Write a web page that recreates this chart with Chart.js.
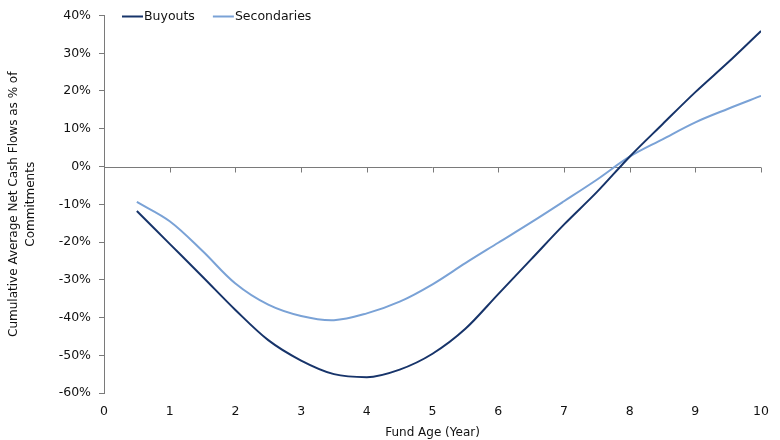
<!DOCTYPE html>
<html>
<head>
<meta charset="utf-8">
<script src="https://cdn.jsdelivr.net/npm/chart.js@4.4.0/dist/chart.umd.min.js"></script>
<style>
  html, body { margin: 0; padding: 0; background: #fff; }
  #wrap { width: 780px; height: 440px; }
</style>
</head>
<body>
<div id="wrap"><canvas id="chFlows"></canvas></div>
<script>
// fund age in years, read every half year off the reference
const years = [0.5, 1, 1.5, 2, 2.5, 3, 3.5, 4, 4.5, 5, 5.5, 6, 6.5, 7, 7.5, 8, 8.5, 9, 9.5, 10];
const buyouts = [-11.8, -20.5, -29.2, -38.0, -46.0, -51.4, -55.0, -55.8, -53.8, -49.6, -43.0, -33.8, -24.6, -15.4, -6.8, 2.6, 11.2, 19.7, 27.6, 35.9];
const secondaries = [-9.4, -14.5, -22.4, -31.0, -36.6, -39.6, -40.7, -38.9, -35.8, -31.2, -25.6, -20.2, -14.8, -9.2, -3.5, 2.6, 7.2, 11.7, 15.3, 18.7];
const seriesNames = ['Buyouts', 'Secondaries'];
const xTicks = [0, 1, 2, 3, 4, 5, 6, 7, 8, 9, 10];
const yTicks = [-60, -50, -40, -30, -20, -10, 0, 10, 20, 30, 40];

const FONT = '"DejaVu Sans", Verdana, sans-serif';
const AXIS = '#7a7a7a';
const TXT = '#111';

// zero line with its tick marks (the x axis sits on 0%)
const zeroAxis = {
  id: 'zeroAxis',
  beforeDatasetsDraw(chart) {
    const ctx = chart.ctx, a = chart.chartArea;
    const sx = chart.scales.x, sy = chart.scales.y;
    const y0 = Math.round(sy.getPixelForValue(0)) + 0.5;
    ctx.save();
    ctx.strokeStyle = AXIS;
    ctx.lineWidth = 1;
    ctx.beginPath();
    ctx.moveTo(a.left, y0);
    ctx.lineTo(a.right, y0);
    xTicks.forEach(t => {
      if (t === 0) return;
      const px = Math.round(sx.getPixelForValue(t)) + 0.5;
      ctx.moveTo(px, y0);
      ctx.lineTo(px, y0 + 5);
    });
    ctx.stroke();
    ctx.restore();
  }
};

// legend drawn inside the plot, top left
const innerLegend = {
  id: 'innerLegend',
  afterDraw(chart) {
    const ctx = chart.ctx, a = chart.chartArea;
    let x = a.left + 18;
    const y = a.top + 1;
    ctx.save();
    ctx.font = '12.5px ' + FONT;
    ctx.textBaseline = 'middle';
    chart.data.datasets.forEach(ds => {
      ctx.strokeStyle = ds.borderColor;
      ctx.lineWidth = 2;
      ctx.beginPath();
      ctx.moveTo(x, y);
      ctx.lineTo(x + 21, y);
      ctx.stroke();
      ctx.fillStyle = TXT;
      ctx.fillText(ds.label, x + 22, y);
      x += 22 + ctx.measureText(ds.label).width + 18;
    });
    ctx.restore();
  }
};

new Chart(document.getElementById('chFlows'), {
  type: 'line',
  data: {
    datasets: [
      { label: seriesNames[0], data: years.map((x, i) => ({ x, y: buyouts[i] })), borderColor: '#17346a', backgroundColor: '#17346a', borderWidth: 2, pointRadius: 0, cubicInterpolationMode: 'monotone' },
      { label: seriesNames[1], data: years.map((x, i) => ({ x, y: secondaries[i] })), borderColor: '#7aa2d6', backgroundColor: '#7aa2d6', borderWidth: 2, pointRadius: 0, tension: 0.35 }
    ]
  },
  options: {
    responsive: true,
    maintainAspectRatio: false,
    animation: false,
    layout: { padding: { top: 8, right: 17, left: 0, bottom: 0 } },
    plugins: { legend: { display: false }, tooltip: { enabled: false } },
    scales: {
      x: {
        type: 'linear', min: 0, max: 10,
        afterBuildTicks: s => { s.ticks = xTicks.map(v => ({ value: v })); },
        afterFit: s => { s.height = 47; },
        grid: { display: false, drawTicks: false },
        border: { display: false },
        ticks: { padding: 11, color: TXT, font: { family: FONT, size: 12.5 }, maxRotation: 0 },
        title: { display: true, text: 'Fund Age (Year)', color: TXT, font: { family: FONT, size: 12 }, padding: { top: 0, bottom: 0 } }
      },
      y: {
        min: -60, max: 40,
        afterBuildTicks: s => { s.ticks = yTicks.map(v => ({ value: v })); },
        afterFit: s => { s.width = 104; },
        grid: { drawOnChartArea: false, drawTicks: true, tickLength: 5, color: AXIS },
        border: { display: true, color: AXIS, width: 1 },
        ticks: { padding: 8, color: TXT, font: { family: FONT, size: 12.5 }, callback: v => v + '%' },
        title: { display: true, text: ['Cumulative Average Net Cash Flows as % of', 'Commitments'], color: TXT, font: { family: FONT, size: 12, lineHeight: 1.45 }, padding: { top: 5, bottom: 0 } }
      }
    }
  },
  plugins: [zeroAxis, innerLegend]
});
</script>
</body>
</html>
